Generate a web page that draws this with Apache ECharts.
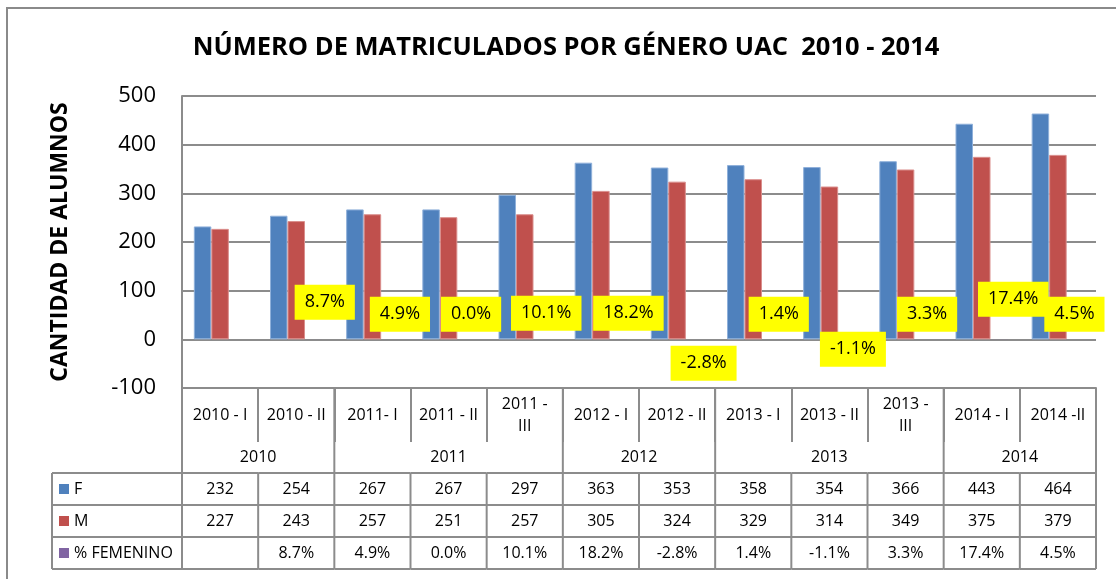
<!DOCTYPE html>
<html>
<head>
<meta charset="utf-8">
<script src="https://cdn.jsdelivr.net/npm/echarts@6/dist/echarts.min.js"></script>
<style>
  html, body { margin: 0; padding: 0; background: #ffffff; }
  #chart { width: 1116px; height: 579px; }
</style>
</head>
<body>
<div id="chart"></div>
<script>
// Enrolment periods and the years they belong to
const periods = ['2010 - I', '2010 - II', '2011- I', '2011 - II', '2011 - III', '2012 - I', '2012 - II',
                 '2013 - I', '2013 - II', '2013 - III', '2014 - I', '2014 -II'];
const years = ['2010', '2011', '2012', '2013', '2014'];
const periodsPerYear = [2, 3, 2, 3, 2];

// Enrolled students by gender
const femenino = [232, 254, 267, 267, 297, 363, 353, 358, 354, 366, 443, 464];
const masculino = [227, 243, 257, 251, 257, 305, 324, 329, 314, 349, 375, 379];
// Period-over-period change of female enrolment (%)
const pctFemenino = [null, 8.7, 4.9, 0.0, 10.1, 18.2, -2.8, 1.4, -1.1, 3.3, 17.4, 4.5];

// Value axis ticks
const yTicks = [-100, 0, 100, 200, 300, 400, 500];

const seriesNames = ['F', 'M', '% FEMENINO'];

// ---- styling / layout ----
const FONT = '"Open Sans", "Noto Sans", sans-serif';
const GRID_COLOR = '#8c8c8c';
const COLORS = ['#4F81BD', '#C0504D', '#8064A2'];
const BORDERS = ['#8FB0DA', '#DA8E8C', '#A996C3'];
const CAT_ROW_H = 54;     // period label row under the plot
const YEAR_ROW_H = 31;    // year row
const ROW_H = 32;         // data table rows
const HEADER_LEFT = 52;   // left edge of the row-header column

// pixel nudges for the yellow percentage labels (dx, dy from the bar slot)
const pctLabelNudge = [[0, 0], [11, -37], [10, -25], [5, -25], [4, -26], [10, -26],
                       [9, 24], [8, -25], [6, 10], [4, -25], [14, -40], [-1, -25]];

const yMin = yTicks[0];
const yMax = yTicks[yTicks.length - 1];
const yStep = yTicks[1] - yTicks[0];

// first / last period index of every year group
const yearStart = [];
const yearEnd = [];
periodsPerYear.reduce((acc, n) => { yearStart.push(acc); yearEnd.push(acc + n - 1); return acc + n; }, 0);

const fmtPct = v => (v === null || v === undefined) ? '' : v.toFixed(1) + '%';

function renderTable(params, api) {
  const i = api.value(0);
  const pt = api.coord([i, yMin]);
  const cx = pt[0], axisY = pt[1];
  const w = api.size([1, 0])[0];
  const x0 = cx - w / 2, x1 = cx + w / 2;
  const yearTop = axisY + CAT_ROW_H;
  const bodyTop = yearTop + YEAR_ROW_H;
  const bodyBottom = bodyTop + 3 * ROW_H;
  const kids = [];
  const line = (xa, ya, xb, yb) => ({
    type: 'line', silent: true,
    shape: { x1: xa, y1: ya, x2: xb, y2: yb },
    style: { stroke: GRID_COLOR, lineWidth: 2 }
  });
  const txt = (s, x, y, align) => ({
    type: 'text', silent: true,
    style: { text: s, x: x, y: y, align: align || 'center', verticalAlign: 'middle',
             font: '16px ' + FONT, fill: '#000000' }
  });

  // horizontal borders of the data rows
  const left = i === 0 ? HEADER_LEFT : x0;
  for (let r = 0; r <= 3; r++) {
    kids.push(line(left, bodyTop + r * ROW_H, x1, bodyTop + r * ROW_H));
  }
  // right border of this column
  const endsYear = yearEnd.indexOf(i) >= 0;
  kids.push(line(x1, endsYear ? axisY : bodyTop, x1, bodyBottom));

  if (i === 0) {
    kids.push(line(x0, axisY, x0, bodyBottom));
    kids.push(line(HEADER_LEFT, bodyTop, HEADER_LEFT, bodyBottom));
    seriesNames.forEach((name, r) => {
      const ym = bodyTop + r * ROW_H + ROW_H / 2;
      kids.push({ type: 'rect', silent: true,
                  shape: { x: HEADER_LEFT + 7, y: ym - 5, width: 10, height: 10 },
                  style: { fill: COLORS[r] } });
      kids.push(txt(name, HEADER_LEFT + 22, ym, 'left'));
    });
  }

  // values
  const rowVals = [String(femenino[i]), String(masculino[i]), fmtPct(pctFemenino[i])];
  rowVals.forEach((s, r) => kids.push(txt(s, cx, bodyTop + r * ROW_H + ROW_H / 2)));

  // year label centred over its group of periods
  const g = yearStart.indexOf(i);
  if (g >= 0) {
    const xEnd = api.coord([yearEnd[g], yMin])[0] + w / 2;
    kids.push(txt(years[g], (x0 + xEnd) / 2, yearTop + YEAR_ROW_H / 2));
  }
  return { type: 'group', children: kids };
}

const chart = echarts.init(document.getElementById('chart'), null, { renderer: 'canvas' });

const option = {
  animation: false,
  backgroundColor: '#ffffff',
  textStyle: { fontFamily: FONT },
  graphic: [
    { type: 'rect', silent: true, z: -10,
      shape: { x: 7, y: 8, width: 1200, height: 700 },
      style: { fill: 'none', stroke: '#8a8a8a', lineWidth: 2 } },
    { type: 'text', silent: true,
      x: 566, y: 48,
      style: { text: 'NÚMERO DE MATRICULADOS POR GÉNERO UAC  2010 - 2014',
               align: 'center', verticalAlign: 'middle',
               font: 'bold 25.5px ' + FONT, fill: '#000000' } }
  ],
  grid: { left: 182, right: 20, top: 96, bottom: 191, containLabel: false },
  xAxis: {
    type: 'category',
    data: periods,
    axisLine: { onZero: false, lineStyle: { color: GRID_COLOR, width: 2 } },
    axisTick: { show: true, interval: 0, length: CAT_ROW_H, lineStyle: { color: GRID_COLOR, width: 2 } },
    axisLabel: {
      interval: 0, margin: 27, verticalAlign: 'middle',
      fontSize: 16, lineHeight: 22, color: '#000000', fontFamily: FONT,
      formatter: v => v.replace(/ (III)$/, '\n$1')
    }
  },
  yAxis: {
    type: 'value',
    min: yMin, max: yMax, interval: yStep,
    name: 'CANTIDAD DE ALUMNOS',
    nameLocation: 'middle',
    nameGap: 122,
    nameRotate: 90,
    nameTextStyle: { fontSize: 23, fontWeight: 'bold', color: '#000000', fontFamily: FONT,
                     verticalAlign: 'middle' },
    axisLine: { show: true, lineStyle: { color: GRID_COLOR, width: 2 } },
    axisTick: { show: false },
    axisLabel: { fontSize: 22, color: '#000000', margin: 26, fontFamily: FONT },
    splitLine: { show: true, lineStyle: { color: GRID_COLOR, width: 2 } }
  },
  series: [
    {
      name: seriesNames[0], type: 'bar', data: femenino,
      barWidth: 17.5, barGap: '0%',
      itemStyle: { color: COLORS[0], borderColor: BORDERS[0], borderWidth: 1 }
    },
    {
      name: seriesNames[1], type: 'bar', data: masculino,
      barWidth: 17.5, barGap: '0%',
      itemStyle: { color: COLORS[1], borderColor: BORDERS[1], borderWidth: 1 }
    },
    {
      name: seriesNames[2], type: 'bar',
      // percentages plotted on the count axis, as fractions
      data: pctFemenino.map(v => (v === null ? null : v / 100)),
      barWidth: 17.5, barGap: '0%',
      itemStyle: { color: COLORS[2] },
      label: {
        show: true, position: 'inside',
        formatter: p => fmtPct(pctFemenino[p.dataIndex]),
        backgroundColor: '#FFFF00',
        color: '#000000', fontSize: 18, fontFamily: FONT,
        lineHeight: 22, padding: [7, 10, 6, 10]
      },
      labelLayout: p => ({
        dx: pctLabelNudge[p.dataIndex][0],
        dy: pctLabelNudge[p.dataIndex][1],
        hideOverlap: false
      })
    },
    {
      type: 'custom',
      coordinateSystem: 'cartesian2d',
      clip: false,
      silent: true,
      data: periods.map((p, i) => [i, yMin]),
      encode: { x: 0, y: 1 },
      renderItem: renderTable,
      z: 5
    }
  ]
};

chart.setOption(option);
</script>
</body>
</html>
